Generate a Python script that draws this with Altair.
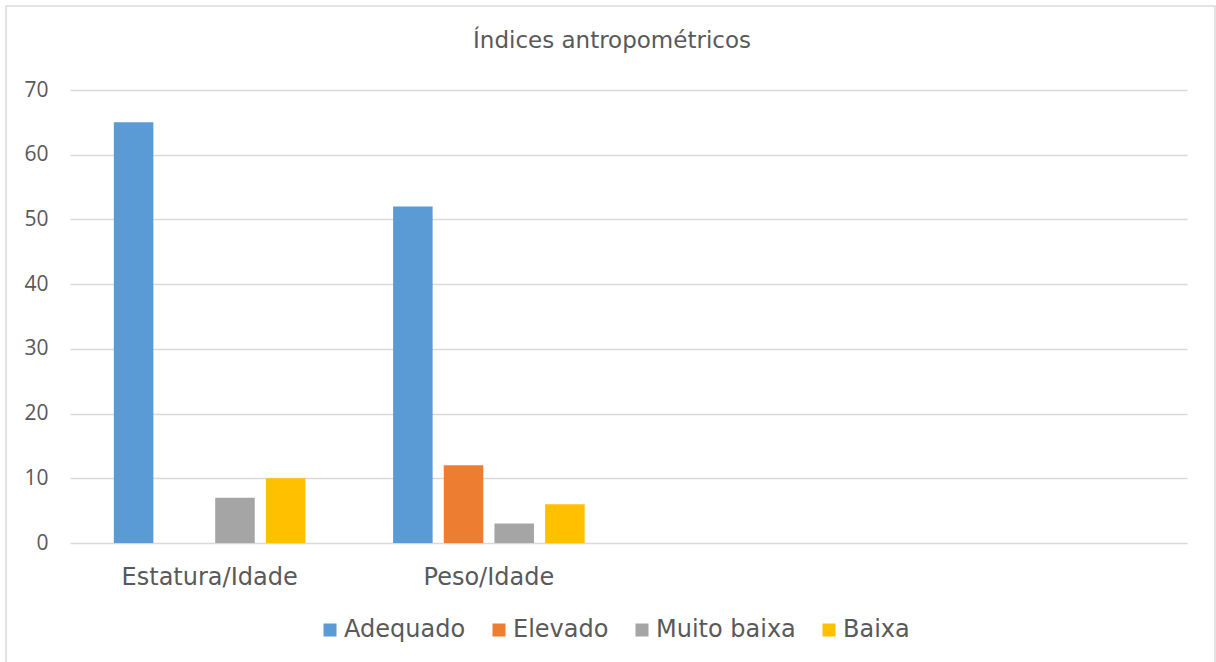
import altair as alt
import pandas as pd

categories = ["Estatura/Idade", "Peso/Idade", " ", "  "]
series = ["Adequado", "Elevado", "Muito baixa", "Baixa"]
colors = ["#5B9BD5", "#ED7D31", "#A5A5A5", "#FFC000"]
estatura_idade = [65, 0, 7, 10]
peso_idade = [52, 12, 3, 6]
y_ticks = [0, 10, 20, 30, 40, 50, 60, 70]
title_text = "Índices antropométricos"

rows = []
for s, v in zip(series, estatura_idade):
    rows.append({"categoria": categories[0], "serie": s, "valor": v})
for s, v in zip(series, peso_idade):
    rows.append({"categoria": categories[1], "serie": s, "valor": v})
df = pd.DataFrame(rows)

TEXT = "#595959"
GRID = "#D9D9D9"
LEFT, TOP = 70, 90

bars = alt.Chart(df).mark_bar().encode(
    x=alt.X("categoria:N",
            scale=alt.Scale(domain=categories, paddingInner=0.314, paddingOuter=0.157),
            axis=alt.Axis(title=None, labelAngle=0, domain=False, ticks=False,
                          labelPadding=22, labelFont="DejaVu Sans", labelFontSize=24,
                          labelColor=TEXT, grid=False)),
    xOffset=alt.XOffset("serie:N", scale=alt.Scale(domain=series, paddingInner=0.22, paddingOuter=0)),
    y=alt.Y("valor:Q",
            scale=alt.Scale(domain=[0, 70], nice=False),
            axis=alt.Axis(title=None, values=y_ticks, domain=False, ticks=False,
                          labelPadding=22, labelFont="Open Sans", labelFontSize=21,
                          labelColor=TEXT, grid=True, gridColor=GRID, gridWidth=1.3)),
    color=alt.Color("serie:N",
                    scale=alt.Scale(domain=series, range=colors),
                    legend=alt.Legend(title=None, orient="none", direction="horizontal",
                                      legendX=248, legendY=528, padding=0,
                                      symbolType="square", symbolSize=169, symbolStrokeWidth=0,
                                      labelFont="DejaVu Sans", labelFontSize=24, labelColor=TEXT,
                                      labelOffset=2, columnPadding=21)),
)

title_df = pd.DataFrame({"t": [title_text]})
title = alt.Chart(title_df).mark_text(
    font="DejaVu Sans", fontSize=23, color=TEXT, align="center", baseline="alphabetic"
).encode(text="t:N", x=alt.value(612 - LEFT), y=alt.value(48 - TOP))

border = alt.Chart(title_df).mark_rect(
    fill=None, fillOpacity=0, stroke=GRID, strokeWidth=1.5
).encode(x=alt.value(6 - LEFT), x2=alt.value(1215 - LEFT),
         y=alt.value(6 - TOP), y2=alt.value(720 - TOP))

chart = alt.layer(border, bars, title).properties(
    width=1117, height=453,
    autosize=alt.AutoSizeParams(type="none"),
    padding={"left": LEFT, "top": TOP, "right": 29, "bottom": 119},
    background="white",
).configure_view(stroke=None)

chart.save("out.html", embed_options={"renderer": "svg", "actions": False})
